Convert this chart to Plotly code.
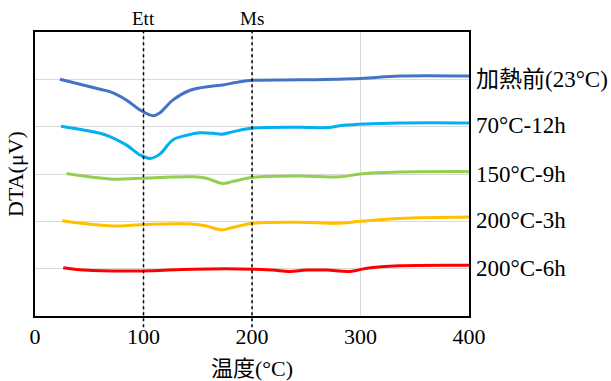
import plotly.graph_objects as go

# --- data (temperature °C, DTA offset units) ---
names = ["加熱前(23°C)", "70°C-12h", "150°C-9h", "200°C-3h", "200°C-6h"]
colors = ["#4472C4", "#00B0F0", "#92D050", "#FFC000", "#FF0000"]

x_s1 = [23, 60, 69, 84.5, 97, 109, 115, 127, 143, 164, 173, 189, 201, 244, 300, 336, 400]
y_s1 = [5.00, 4.79, 4.74, 4.56, 4.35, 4.23, 4.29, 4.56, 4.77, 4.86, 4.88, 4.95, 4.98, 4.99, 5.02, 5.07, 5.07]

x_s2 = [24, 60, 69, 84.5, 97, 106, 115, 127, 140, 152, 164, 172, 182, 201, 244, 270, 284, 336, 400]
y_s2 = [4.01, 3.86, 3.79, 3.61, 3.40, 3.33, 3.42, 3.72, 3.82, 3.87, 3.86, 3.84, 3.89, 3.97, 3.99, 3.98, 4.03, 4.08, 4.08]

x_s3 = [29, 72, 97, 146, 158, 173, 182, 201, 244, 281, 300, 336, 400]
y_s3 = [3.01, 2.89, 2.91, 2.94, 2.91, 2.80, 2.84, 2.93, 2.96, 2.94, 3.00, 3.04, 3.05]

x_s4 = [25, 72, 97, 146, 158, 172, 182, 201, 244, 278, 300, 336, 400]
y_s4 = [2.01, 1.90, 1.93, 1.94, 1.90, 1.82, 1.87, 1.96, 1.98, 1.96, 2.00, 2.06, 2.09]

x_s5 = [26, 45, 97, 146, 201, 219, 235, 250, 269, 290, 306, 336, 400]
y_s5 = [1.02, 0.97, 0.95, 0.99, 0.99, 0.97, 0.94, 0.97, 0.97, 0.94, 1.01, 1.06, 1.07]

xs = [x_s1, x_s2, x_s3, x_s4, x_s5]
ys = [y_s1, y_s2, y_s3, y_s4, y_s5]

marker_x = [100, 200]
marker_labels = ["Ett", "Ms"]

x_ticks = [0, 100, 200, 300, 400]

SERIF = "Liberation Serif, Times New Roman, Noto Sans CJK JP, serif"

fig = go.Figure()
for n, c, x, y in zip(names, colors, xs, ys):
    fig.add_trace(go.Scatter(x=x, y=y, mode="lines", name=n,
                             line=dict(color=c, width=3, shape="spline", smoothing=1.0)))
    fig.add_annotation(x=1, xref="paper", y=y[-1], yref="y", text=n, showarrow=False,
                       xanchor="left", yanchor="middle", xshift=5, yshift=-3,
                       font=dict(family=SERIF, size=23, color="#000"))

for mx, ml in zip(marker_x, marker_labels):
    fig.add_shape(type="line", x0=mx, x1=mx, xref="x", y0=-0.04, y1=1, yref="paper",
                  line=dict(color="#000", width=1.5, dash="dot"))
    fig.add_annotation(x=mx, xref="x", y=1, yref="paper", text=ml, showarrow=False,
                       yanchor="bottom", yshift=1,
                       font=dict(family=SERIF, size=19, color="#000"))

fig.update_layout(
    width=611, height=381,
    margin=dict(l=35, r=142, t=32, b=65),
    paper_bgcolor="white", plot_bgcolor="white",
    showlegend=False,
    font=dict(family=SERIF, size=22, color="#000"),
    xaxis=dict(range=[0, 400], tickvals=x_ticks, ticktext=[str(t) for t in x_ticks],
               showgrid=True, gridcolor="#d9d9d9", gridwidth=1,
               showline=True, linecolor="#000", linewidth=1.5, mirror=True,
               ticks="", zeroline=False, automargin=False,
               title=dict(text="温度(°C)", font=dict(family=SERIF, size=22), standoff=13)),
    yaxis=dict(range=[0, 6], tickvals=[1, 2, 3, 4, 5], showticklabels=False,
               showgrid=True, gridcolor="#d9d9d9", gridwidth=1,
               showline=True, linecolor="#000", linewidth=1.5, mirror=True,
               ticks="", zeroline=False, automargin=False,
               title=dict(text="DTA(μV)", font=dict(family=SERIF, size=22), standoff=4)),
)

fig.write_html("out.html")
